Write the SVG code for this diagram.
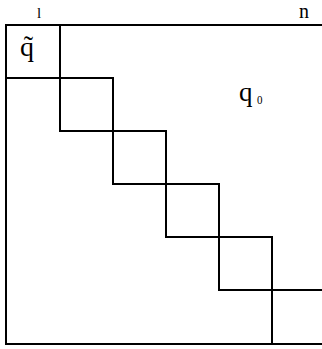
<svg xmlns="http://www.w3.org/2000/svg" width="322" height="349" viewBox="0 0 322 349">
<style>
.ln{fill:none;stroke:#000;stroke-width:2;stroke-linecap:square}
.t{font-family:"Liberation Serif","Times New Roman",serif;fill:#000}
</style>
<rect width="322" height="349" fill="#fff"/>
<g id="frame" class="ln">
<line x1="6" y1="25" x2="322" y2="25"/>
<line x1="6" y1="25" x2="6" y2="344"/>
<line x1="6" y1="344" x2="322" y2="344"/>
</g>
<g id="blocks" class="ln">
<rect x="6" y="25" width="54" height="53"/>
<rect x="60" y="78" width="53" height="53"/>
<rect x="113" y="131" width="53" height="53"/>
<rect x="166" y="184" width="53" height="53"/>
<rect x="219" y="237" width="53" height="53"/>
<line x1="272" y1="290" x2="322" y2="290"/>
<line x1="272" y1="290" x2="272" y2="344"/>
</g>
<g id="labels">
<text class="t" x="37" y="18" font-size="15">l</text>
<text class="t" x="299" y="18" font-size="20">n</text>
<text class="t" x="20" y="56" font-size="28">q̃</text>
<text class="t" x="239" y="101" font-size="27">q</text>
<text class="t" font-size="11" fill="#666" transform="translate(257,104) scale(1,1.15)">0</text>
</g>
</svg>
